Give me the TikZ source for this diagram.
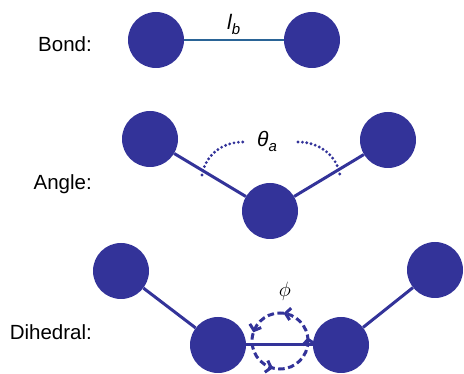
\documentclass[tikz,border=0pt]{standalone}
\usepackage{fontspec}
\setmainfont{Liberation Sans}
\usetikzlibrary{decorations.markings,arrows.meta}
\definecolor{atom}{RGB}{51,51,153}
\definecolor{bondc}{RGB}{42,100,150}
\begin{document}
\begin{tikzpicture}[x=1pt,y=-1pt,
  atomnode/.style={circle,fill=atom,minimum size=56pt,inner sep=0pt},
  link/.style={draw=atom,line width=3pt},
  lbl/.style={anchor=base east,font=\fontsize{20.5}{24}\selectfont,inner sep=0pt},
  sym/.style={anchor=base west,font=\fontsize{21}{24}\selectfont\itshape,inner sep=0pt},
  dotarc/.style={draw=atom,line width=3.2pt,line cap=round,dash pattern=on 0pt off 4.4pt},
  dashcirc/.style={draw=atom,line width=3pt,dash pattern=on 6.5pt off 3.5pt,
    postaction={decorate},
    decoration={markings,
      mark=at position 0.02 with {\arrow{Straight Barb[length=5pt,width=12pt,line width=3pt]}},
      mark=at position 0.23 with {\arrow{Straight Barb[length=5pt,width=12pt,line width=3pt]}},
      mark=at position 0.45 with {\arrow{Straight Barb[length=5pt,width=12pt,line width=3pt]}},
      mark=at position 0.71 with {\arrow{Straight Barb[length=5pt,width=12pt,line width=3pt]}}}}
]
\useasboundingbox (0,0) rectangle (464,374);

% labels
\node[lbl] (tbond) at (92,52) {Bond:};
\node[lbl] (tangle) at (92,190) {Angle:};
\node[lbl] (tdihed) at (92,340) {Dihedral:};

% bond
\node[atomnode] (b1) at (156,40) {};
\node[atomnode] (b2) at (312,40) {};
\draw[draw=bondc,line width=2.6pt] (b1) -- (b2);
\node[sym] (lb) at (227,30) {l\raisebox{-4.5pt}{\fontsize{15}{16}\selectfont b}};

% angle
\node[atomnode] (a1) at (150,139) {};
\node[atomnode] (a2) at (270,211) {};
\node[atomnode] (a3) at (388,140) {};
\draw[link] (a1) -- (a2);
\draw[link] (a2) -- (a3);
\coordinate (l1) at (202,175);
\coordinate (l2) at (243,142);
\coordinate (r1) at (298,142);
\coordinate (r2) at (340,175);
\draw[dotarc] (l1) .. controls (206,153) and (224,142) .. (l2);
\draw[dotarc] (r1) .. controls (317,142) and (336,153) .. (r2);
\node[sym] (theta) at (257,147) {θ\raisebox{-4.5pt}{\fontsize{15}{16}\selectfont a}};

% dihedral
\node[atomnode] (d1) at (121,271) {};
\node[atomnode] (d2) at (218,345) {};
\node[atomnode] (d3) at (341,345) {};
\node[atomnode] (d4) at (435,270) {};
\draw[link] (d1) -- (d2);
\draw[link] (d2) -- (d3);
\draw[link] (d3) -- (d4);
\coordinate (pc) at (280,341);
\draw[dashcirc] ([xshift=28pt]pc) arc[start angle=0,end angle=360,radius=28pt];
\node[inner sep=0pt,font=\fontsize{21}{24}\selectfont] (phi) at (285,291) {$\phi$};
\end{tikzpicture}
\end{document}
